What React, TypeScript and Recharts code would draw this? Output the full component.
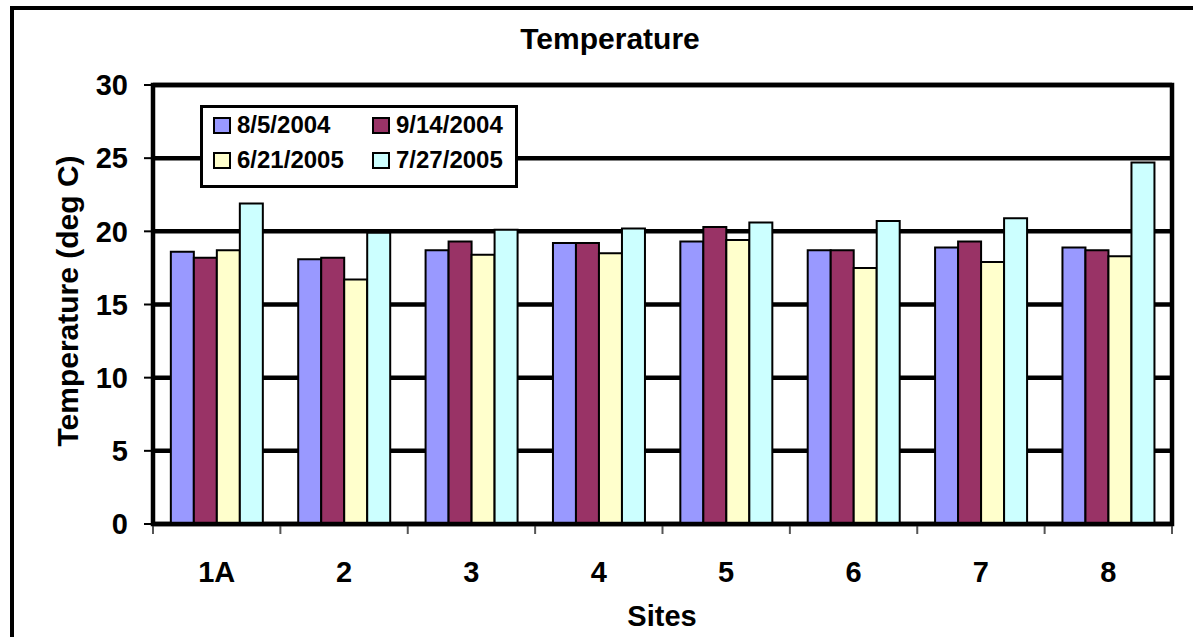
import { Bar, BarChart, CartesianGrid, XAxis, YAxis } from "recharts";

const sites = ["1A", "2", "3", "4", "5", "6", "7", "8"];
const seriesNames = ["8/5/2004", "9/14/2004", "6/21/2005", "7/27/2005"];
const seriesColors = ["#9999FF", "#993366", "#FFFFCC", "#CCFFFF"];

const aug2004 = [18.6, 18.1, 18.7, 19.2, 19.3, 18.7, 18.9, 18.9];
const sep2004 = [18.2, 18.2, 19.3, 19.2, 20.3, 18.7, 19.3, 18.7];
const jun2005 = [18.7, 16.7, 18.4, 18.5, 19.4, 17.5, 17.9, 18.3];
const jul2005 = [21.9, 19.9, 20.1, 20.2, 20.6, 20.7, 20.9, 24.7];

const yTicks = [0, 5, 10, 15, 20, 25, 30];

const seriesValues = [aug2004, sep2004, jun2005, jul2005];
const data = sites.map((site, i) => {
  const row: Record<string, string | number> = { site };
  seriesValues.forEach((values, s) => {
    row[`s${s}`] = values[i];
  });
  return row;
});

const font = "'Liberation Sans', Arial, sans-serif";
const plotLeft = 153;
const plotRight = 1172;
const plotTop = 85;
const plotBottom = 524;

function SiteTick(props: any) {
  const { x, y, payload, index } = props;
  const half = payload?.offset ?? (plotRight - plotLeft) / sites.length / 2;
  return (
    <g>
      <line x1={x - half} x2={x - half} y1={y - 10} y2={y} stroke="#555" strokeWidth={2} />
      {index === sites.length - 1 && (
        <line x1={x + half} x2={x + half} y1={y - 10} y2={y} stroke="#555" strokeWidth={2} />
      )}
      <text x={x} y={y + 48} textAnchor="middle" fontFamily={font} fontWeight="bold" fontSize={29} fill="#000">
        {payload.value}
      </text>
    </g>
  );
}

function LegendBox() {
  const spots = [
    { left: 10, top: 7 },
    { left: 169, top: 7 },
    { left: 10, top: 42 },
    { left: 169, top: 42 },
  ];
  return (
    <div
      style={{
        position: "absolute",
        left: 200,
        top: 105,
        width: 312,
        height: 77,
        border: "3px solid #000",
        background: "#fff",
      }}
    >
      {seriesNames.map((name, i) => (
        <div
          key={name}
          style={{
            position: "absolute",
            left: spots[i].left,
            top: spots[i].top,
            height: 20,
            display: "flex",
            alignItems: "center",
            fontFamily: font,
            fontWeight: "bold",
            fontSize: 24,
            whiteSpace: "nowrap",
          }}
        >
          <span
            style={{
              display: "inline-block",
              width: 14,
              height: 13,
              border: "2px solid #000",
              background: seriesColors[i],
              marginRight: 6,
            }}
          />
          {name}
        </div>
      ))}
    </div>
  );
}

export default function App() {
  return (
    <div
      style={{
        position: "fixed",
        left: 0,
        top: 0,
        width: 1193,
        height: 637,
        overflow: "hidden",
        background: "#fff",
      }}
    >
      <div
        style={{
          position: "absolute",
          left: 10,
          top: 6,
          width: 1400,
          height: 900,
          border: "4px solid #000",
        }}
      />
      <div style={{ position: "absolute", left: 0, top: 0 }}>
        <BarChart
          width={1193}
          height={637}
          data={data}
          margin={{ top: plotTop, right: 1193 - plotRight, bottom: 637 - plotBottom - 60, left: 0 }}
          barCategoryGap="14%"
          barGap={0}
        >
          <CartesianGrid stroke="#000" strokeWidth={4.5} vertical={false} />
          <XAxis
            dataKey="site"
            height={60}
            axisLine={false}
            tickLine={false}
            tickSize={10}
            tickMargin={0}
            tick={<SiteTick />}
            interval={0}
          />
          <YAxis
            width={plotLeft}
            domain={[0, 30]}
            ticks={yTicks}
            axisLine={false}
            tickLine={{ stroke: "#000", strokeWidth: 2 }}
            tickSize={9}
            tickMargin={16}
            tick={{ fill: "#000", fontSize: 29, fontWeight: "bold", fontFamily: font }}
          />
          {seriesNames.map((name, i) => (
            <Bar
              key={name}
              dataKey={`s${i}`}
              name={name}
              fill={seriesColors[i]}
              stroke="#000"
              strokeWidth={2}
              isAnimationActive={false}
            />
          ))}
        </BarChart>
      </div>
      <LegendBox />
      <svg
        width={1193}
        height={637}
        style={{ position: "absolute", left: 0, top: 0, pointerEvents: "none" }}
      >
        <rect
          x={plotLeft}
          y={plotTop}
          width={plotRight - plotLeft}
          height={plotBottom - plotTop}
          fill="none"
          stroke="#000"
          strokeWidth={4.5}
        />
        <text x={610} y={49} textAnchor="middle" fontFamily={font} fontWeight="bold" fontSize={30} fill="#000">
          Temperature
        </text>
        <text
          x={0}
          y={0}
          transform="translate(78 301) rotate(-90)"
          textAnchor="middle"
          fontFamily={font}
          fontWeight="bold"
          fontSize={30}
          fill="#000"
        >
          Temperature (deg C)
        </text>
        <text x={662} y={626} textAnchor="middle" fontFamily={font} fontWeight="bold" fontSize={29} fill="#000">
          Sites
        </text>
      </svg>
    </div>
  );
}
